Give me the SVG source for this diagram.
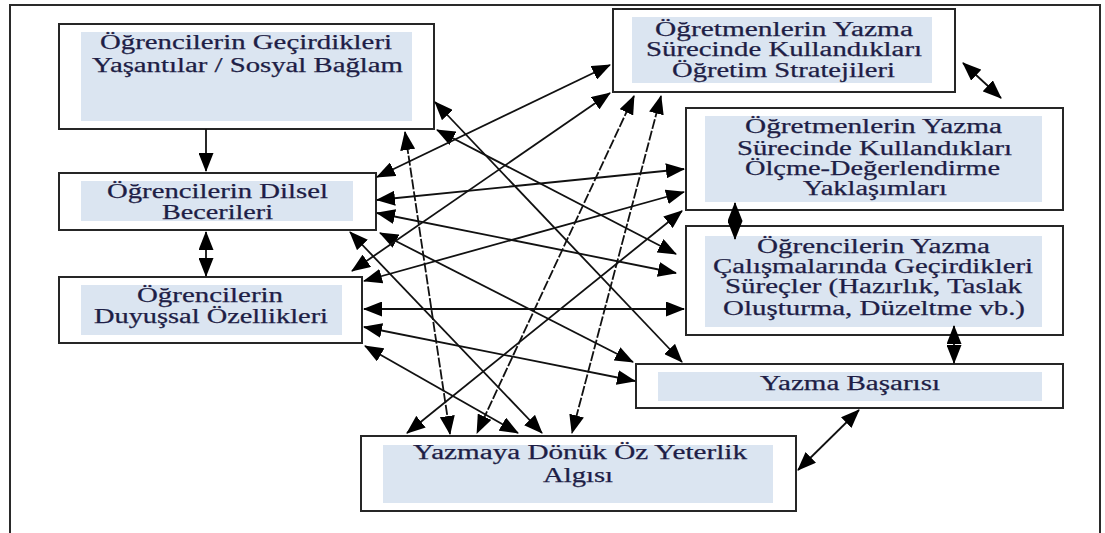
<svg xmlns="http://www.w3.org/2000/svg" width="1105" height="533" viewBox="0 0 1105 533">
<style>
.frame{fill:none;stroke:#2a2a2a;stroke-width:2}
.box{fill:#ffffff;stroke:#262626;stroke-width:2}
.fillr{fill:#dbe5f1;stroke:none}
.t{font-family:"Liberation Serif","Times New Roman",serif;font-size:20px;fill:#1e1e46;stroke:#1e1e46;stroke-width:0.25;text-anchor:middle}
.c{fill:none;stroke:#111;stroke-width:1.8}
.d{stroke-dasharray:10 2}
.ba{marker-start:url(#ah);marker-end:url(#ah)}
.sa{marker-end:url(#ah)}
</style>
<defs>
<marker id="ah" viewBox="0 0 19 15" markerWidth="19" markerHeight="15" refX="18" refY="7.5" orient="auto-start-reverse" markerUnits="userSpaceOnUse">
<path d="M0,0 L19,7.5 L0,15 z" fill="#000"/>
</marker>
</defs>
<path class="frame" d="M10,533 V5 H1100 V533"/>

<g id="n1">
<rect class="box" x="59" y="24" width="375" height="105"/>
<rect class="fillr" x="81" y="32" width="331" height="89"/>
<text class="t" x="246" y="49" textLength="292" lengthAdjust="spacingAndGlyphs">Öğrencilerin Geçirdikleri</text>
<text class="t" x="247.5" y="72" textLength="311" lengthAdjust="spacingAndGlyphs">Yaşantılar / Sosyal Bağlam</text>
</g>
<g id="n2">
<rect class="box" x="59" y="173" width="317" height="57"/>
<rect class="fillr" x="81" y="181" width="272" height="40"/>
<text class="t" x="217.5" y="198" textLength="221" lengthAdjust="spacingAndGlyphs">Öğrencilerin Dilsel</text>
<text class="t" x="217.5" y="219" textLength="111" lengthAdjust="spacingAndGlyphs">Becerileri</text>
</g>
<g id="n3">
<rect class="box" x="59" y="277" width="303" height="66"/>
<rect class="fillr" x="81" y="285" width="261" height="50"/>
<text class="t" x="210" y="302" textLength="146" lengthAdjust="spacingAndGlyphs">Öğrencilerin</text>
<text class="t" x="211" y="323" textLength="234" lengthAdjust="spacingAndGlyphs">Duyuşsal Özellikleri</text>
</g>
<g id="n4">
<rect class="box" x="613" y="9" width="342" height="83"/>
<rect class="fillr" x="632" y="17" width="300" height="66"/>
<text class="t" x="784" y="36" textLength="258" lengthAdjust="spacingAndGlyphs">Öğretmenlerin Yazma</text>
<text class="t" x="784" y="56" textLength="276" lengthAdjust="spacingAndGlyphs">Sürecinde Kullandıkları</text>
<text class="t" x="783.5" y="77" textLength="223" lengthAdjust="spacingAndGlyphs">Öğretim Stratejileri</text>
</g>
<g id="n5">
<rect class="box" x="686" y="108" width="377" height="102"/>
<rect class="fillr" x="705" y="116" width="337" height="86"/>
<text class="t" x="873.5" y="133" textLength="257" lengthAdjust="spacingAndGlyphs">Öğretmenlerin Yazma</text>
<text class="t" x="874.5" y="155" textLength="275" lengthAdjust="spacingAndGlyphs">Sürecinde Kullandıkları</text>
<text class="t" x="872.5" y="175" textLength="255" lengthAdjust="spacingAndGlyphs">Ölçme-Değerlendirme</text>
<text class="t" x="875" y="195" textLength="144" lengthAdjust="spacingAndGlyphs">Yaklaşımları</text>
</g>
<g id="n6">
<rect class="box" x="686" y="226" width="377" height="109"/>
<rect class="fillr" x="705" y="236" width="337" height="91"/>
<text class="t" x="873.5" y="253" textLength="233" lengthAdjust="spacingAndGlyphs">Öğrencilerin Yazma</text>
<text class="t" x="873" y="273" textLength="320" lengthAdjust="spacingAndGlyphs">Çalışmalarında Geçirdikleri</text>
<text class="t" x="873.5" y="293" textLength="297" lengthAdjust="spacingAndGlyphs">Süreçler (Hazırlık, Taslak</text>
<text class="t" x="874" y="315" textLength="302" lengthAdjust="spacingAndGlyphs">Oluşturma, Düzeltme vb.)</text>
</g>
<g id="n7">
<rect class="box" x="636" y="364" width="427" height="44"/>
<rect class="fillr" x="658" y="372" width="384" height="29"/>
<text class="t" x="850" y="390" textLength="180" lengthAdjust="spacingAndGlyphs">Yazma Başarısı</text>
</g>
<g id="n8">
<rect class="box" x="361" y="436" width="435" height="75"/>
<rect class="fillr" x="383" y="445" width="390" height="58"/>
<text class="t" x="580" y="459" textLength="334" lengthAdjust="spacingAndGlyphs">Yazmaya Dönük Öz Yeterlik</text>
<text class="t" x="578" y="482" textLength="70" lengthAdjust="spacingAndGlyphs">Algısı</text>
</g>

<g id="connectors">
<line class="c sa" x1="206" y1="129" x2="206" y2="171"/>
<line class="c ba" x1="206" y1="232" x2="206" y2="276"/>
<line class="c ba" x1="735" y1="203" x2="735" y2="239"/>
<line class="c ba" x1="954" y1="326" x2="954" y2="363"/>
<line class="c ba" x1="963" y1="63" x2="1001" y2="98"/>
<line class="c ba" x1="798" y1="470" x2="859" y2="410"/>

<line class="c ba" x1="435" y1="102" x2="682" y2="362"/>
<line class="c ba" x1="437" y1="130" x2="676" y2="254"/>
<line class="c ba d" x1="405" y1="132" x2="450" y2="434"/>
<line class="c ba" x1="377" y1="177" x2="610" y2="65"/>
<line class="c ba" x1="377" y1="200" x2="684" y2="169"/>
<line class="c ba" x1="377" y1="213" x2="676" y2="273"/>
<line class="c ba" x1="380" y1="233" x2="633" y2="362"/>
<line class="c ba" x1="350" y1="232" x2="542" y2="433"/>
<line class="c ba" x1="352" y1="271" x2="610" y2="93"/>
<line class="c ba" x1="364" y1="281" x2="684" y2="192"/>
<line class="c ba" x1="364" y1="309" x2="684" y2="309"/>
<line class="c ba" x1="364" y1="327" x2="635" y2="381"/>
<line class="c ba" x1="365" y1="346" x2="518" y2="433"/>
<line class="c ba d" x1="634" y1="96" x2="477" y2="433"/>
<line class="c ba d" x1="661" y1="96" x2="572" y2="433"/>
<line class="c ba" x1="682" y1="211" x2="407" y2="433"/>
</g>
</svg>
